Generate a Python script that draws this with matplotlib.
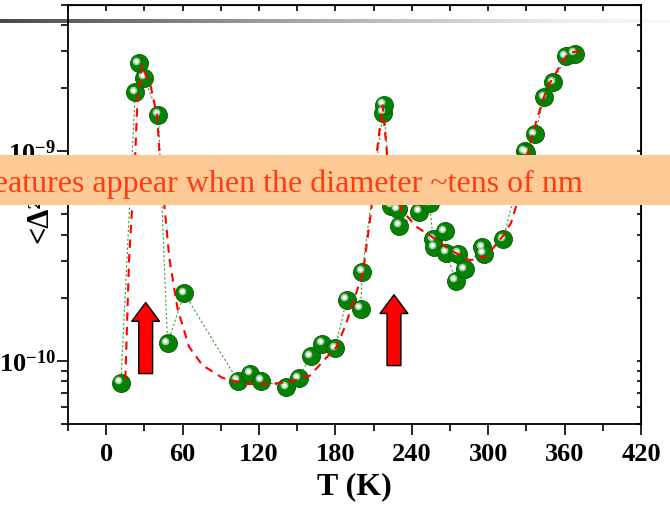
import numpy as np
import matplotlib
matplotlib.use('Agg')
import matplotlib.pyplot as plt
from matplotlib.patches import Rectangle, ArrowStyle
from matplotlib.colors import LinearSegmentedColormap
from matplotlib.ticker import LogLocator, MultipleLocator, FuncFormatter, NullFormatter
import matplotlib.transforms as mtransforms

plt.rcParams['mathtext.fontset'] = 'custom'
plt.rcParams['mathtext.rm'] = 'Liberation Serif'
plt.rcParams['mathtext.bf'] = 'Liberation Serif:bold'
plt.rcParams['font.family'] = ['Liberation Serif', 'DejaVu Serif']

# ---- data (measured points) ----
T_data = [11.5, 22.8, 25.4, 30.0, 40.9, 48.2, 61.3, 103.3, 113.3, 121.6, 141.3,
          151.3, 160.5, 169.7, 179.8, 188.8, 199.9, 201.0, 217.4, 218.0, 224.0,
          229.0, 230.0, 245.7, 254.0, 256.7, 257.5, 266.0, 267.0, 274.6, 276.4,
          281.7, 295.5, 296.5, 311.8, 328.9, 330.0, 336.7, 344.0, 351.0, 361.0, 368.0]
D_data = [7.85e-11, 1.914e-9, 2.63e-9, 2.244e-9, 1.50e-9, 1.213e-10, 2.10e-10,
          8.05e-11, 8.67e-11, 8.05e-11, 7.50e-11, 8.26e-11, 1.05e-10, 1.21e-10,
          1.15e-10, 1.96e-10, 1.77e-10, 2.66e-10, 1.53e-9, 1.67e-9, 5.50e-10,
          5.30e-10, 4.41e-10, 5.14e-10, 5.65e-10, 3.81e-10, 3.48e-10, 4.17e-10,
          3.29e-10, 2.41e-10, 3.24e-10, 2.74e-10, 3.48e-10, 3.24e-10, 3.81e-10,
          1.00e-9, 9.86e-10, 1.205e-9, 1.815e-9, 2.14e-9, 2.84e-9, 2.93e-9]

# ---- fitted curve ----
T_fit = [15, 18, 22.8, 24.4, 28, 35, 40, 42, 49.6, 56, 65, 75.5, 91, 110, 128, 144,
         160, 175, 181, 188, 195, 201.6, 208, 211.6, 217, 221, 232, 243.6, 254, 270,
         285.6, 298.7, 312, 318, 322, 331, 338, 346, 356.5, 363, 372]
D_fit = [8.2e-11, 3.09e-10, 9.55e-10, 1.70e-9, 2.57e-9, 2.04e-9, 1.48e-9, 9.55e-10,
         3.09e-10, 1.78e-10, 1.17e-10, 9.55e-11, 8.32e-11, 7.76e-11, 7.76e-11, 7.94e-11,
         8.51e-11, 1.07e-10, 1.17e-10, 1.48e-10, 2.0e-10, 2.63e-10, 5.13e-10, 8.91e-10,
         1.66e-9, 9.12e-10, 5.25e-10, 4.37e-10, 3.98e-10, 3.39e-10, 3.02e-10, 3.16e-10,
         3.98e-10, 4.57e-10, 5.50e-10, 9.77e-10, 1.41e-9, 2.0e-9, 2.57e-9, 2.95e-9, 3.02e-9]

# ---- arrows ----
arrow_T = [31, 226]
arrow_tip = [1.9e-10, 2.07e-10]
arrow_base = [8.7e-11, 9.5e-11]

x_ticks = [0, 60, 120, 180, 240, 300, 360, 420]
banner = 'features appear when the diameter ~tens of nm'

fig = plt.figure(figsize=(6.7, 5.08), dpi=100)

# gradient bar behind the axes
bar = fig.add_axes([0, 1 - 23 / 508, 1, 4 / 508], zorder=0)
cmap = LinearSegmentedColormap.from_list(
    'g', [(0, '#4a4a4a'), (0.45, '#a8a8a8'), (0.85, '#eeeeee'), (1, '#f8f8f8')])
bar.imshow(np.linspace(0, 1, 512)[None, :], aspect='auto', cmap=cmap, extent=[0, 1, 0, 1])
bar.axis('off')

ax = fig.add_axes([68 / 670, 1 - 424 / 508, (641 - 68) / 670, (424 - 5) / 508], zorder=1)
ax.patch.set_alpha(0)

ax.plot(T_data, D_data, ls=(0, (2, 2)), color='#3c9a3c', lw=0.8, zorder=1)
ax.plot(T_data, D_data, 'o', ms=13, mfc='#058205', mec='#006000', mew=0.6, zorder=2)
off1 = mtransforms.offset_copy(ax.transData, fig=fig, x=-2.5, y=2.5, units='dots')
ax.plot(T_data, D_data, 'o', ms=5.5, mfc='#9ccf9c', mec='none', transform=off1, zorder=3)
ax.plot(T_data, D_data, 'o', ms=3, mfc='#ffffff', mec='none', transform=off1, zorder=3)
ax.plot(T_fit, D_fit, color='#ff0000', ls=(0, (4, 3)), lw=1.5, zorder=4)

style = ArrowStyle.Simple(head_length=1.35, head_width=2.0, tail_width=1.0)
for t, tip, base in zip(arrow_T, arrow_tip, arrow_base):
    ax.annotate('', xy=(t, tip), xytext=(t, base),
                arrowprops=dict(arrowstyle=style, mutation_scale=10, fc='#ff0000',
                                ec='black', lw=1.0, shrinkA=0, shrinkB=0), zorder=5)

ax.set_yscale('log')
ax.set_xlim(-30, 420)
ax.set_ylim(5e-11, 5e-9)

ax.set_xticks(x_ticks)
ax.set_xticklabels([str(v) for v in x_ticks])
ax.xaxis.set_minor_locator(MultipleLocator(30))
ax.yaxis.set_major_locator(LogLocator(base=10))
ax.yaxis.set_minor_locator(LogLocator(base=10, subs=np.arange(2, 10)))
ax.yaxis.set_minor_formatter(NullFormatter())
ax.yaxis.set_major_formatter(FuncFormatter(
    lambda v, p: r'$\mathbf{10^{%d}}$' % int(round(np.log10(v)))))

ax.tick_params(axis='x', which='major', direction='out', length=8, width=1.2,
               labelsize=19, pad=6)
ax.tick_params(axis='x', which='minor', direction='out', length=5, width=1.2)
ax.tick_params(axis='y', which='major', direction='out', length=8, width=1.2,
               labelsize=19, pad=1)
ax.tick_params(axis='y', which='minor', direction='out', length=5, width=1.2)
for lab in ax.get_xticklabels():
    lab.set_fontweight('bold')
for s in ax.spines.values():
    s.set_linewidth(1.3)

secx = ax.secondary_xaxis('top')
secx.set_xticks(np.arange(-30, 421, 30))
secx.tick_params(direction='in', length=4, width=1.2, labeltop=False)
secy = ax.secondary_yaxis('right')
secy.set_yscale('log')
secy.yaxis.set_major_locator(LogLocator(base=10))
secy.yaxis.set_minor_locator(LogLocator(base=10, subs=np.arange(2, 10)))
secy.tick_params(which='both', direction='in', length=3, width=1.2, labelright=False)
secy.yaxis.set_minor_formatter(NullFormatter())

ax.set_xlabel('T (K)', fontsize=23, fontweight='bold', labelpad=4)

# y label (mostly hidden behind the banner)
fig.text(40 / 670, 1 - 243 / 508, '<Δ²>', rotation=90, ha='center', va='bottom',
         fontsize=22, fontweight='bold', zorder=2)

# banner
fig.add_artist(Rectangle((0, 1 - 205 / 508), 1, 50 / 508, transform=fig.transFigure,
                         facecolor='#fdca96', edgecolor='none', zorder=10))
fig.text(583 / 670, 1 - 192 / 508, banner, ha='right', va='baseline', fontsize=23,
         color='#ff3c14', zorder=11)

fig.savefig('out.png', dpi=100)
